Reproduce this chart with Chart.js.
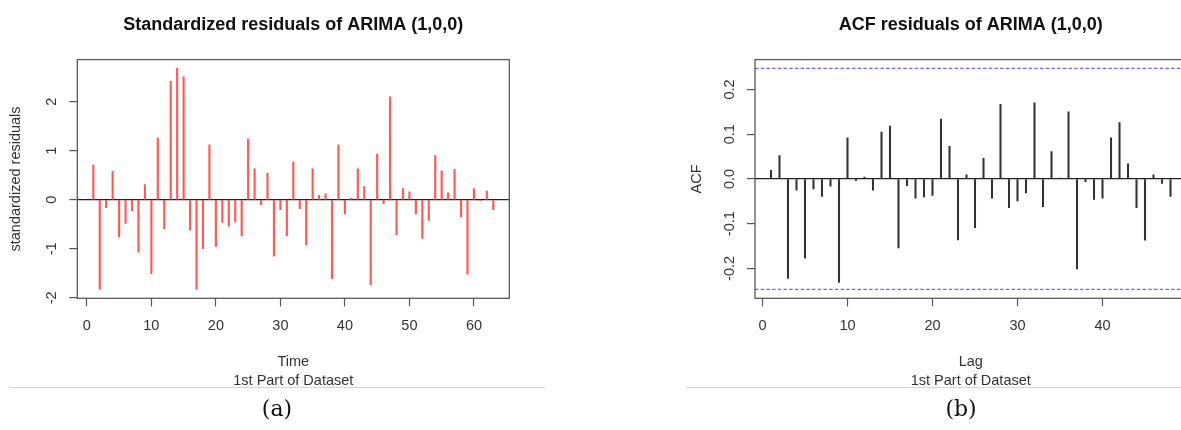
<!DOCTYPE html>
<html>
<head>
<meta charset="utf-8">
<script src="https://cdn.jsdelivr.net/npm/chart.js@4.4.1/dist/chart.umd.min.js"></script>
<style>
  html, body { margin: 0; padding: 0; background: #fff; overflow: hidden; width: 1181px; height: 430px; }
  .panel { position: absolute; top: 0; height: 400px; }
  .sep { position: absolute; top: 387px; height: 1px; background: #d6d6d6; }
  .cap { position: absolute; top: 396px; font-family: "DejaVu Serif", serif; font-size: 22px; color: #111; transform: translateX(-50%); }
</style>
</head>
<body>
<div class="panel" style="left:0;width:560px"><canvas id="resChart"></canvas></div>
<div class="panel" style="left:680px;width:520px"><canvas id="acfChart"></canvas></div>
<div class="sep" style="left:9px;width:536px"></div>
<div class="sep" style="left:686px;width:495px"></div>
<div class="cap" style="left:277px">(a)</div>
<div class="cap" style="left:961px">(b)</div>
<script>
// standardized residuals, t = 1..63
const residuals = [
  0.71, -1.83, -0.16, 0.58, -0.76, -0.48, -0.22, -1.07, 0.31, -1.51,
  1.26, -0.59, 2.42, 2.68, 2.51, -0.62, -1.83, -1.00, 1.12, -0.95,
  -0.46, -0.54, -0.45, -0.73, 1.24, 0.63, -0.10, 0.54, -1.15, -0.20,
  -0.73, 0.77, -0.18, -0.92, 0.63, 0.09, 0.12, -1.61, 1.12, -0.29,
  0.03, 0.63, 0.27, -1.73, 0.93, -0.08, 2.10, -0.71, 0.23, 0.16,
  -0.29, -0.79, -0.42, 0.90, 0.59, 0.14, 0.62, -0.35, -1.52, 0.23,
  -0.02, 0.18, -0.20
];
// ACF of residuals, lag = 1..48
const acfValues = [
  0.019, 0.052, -0.222, -0.025, -0.177, -0.022, -0.039, -0.016, -0.231, 0.092,
  -0.004, 0.004, -0.025, 0.105, 0.118, -0.154, -0.015, -0.043, -0.040, -0.037,
  0.134, 0.073, -0.136, 0.009, -0.109, 0.046, -0.043, 0.167, -0.064, -0.049,
  -0.031, 0.170, -0.062, 0.061, 0.002, 0.150, -0.201, -0.006, -0.046, -0.043,
  0.092, 0.126, 0.034, -0.064, -0.137, 0.009, -0.010, -0.039
];
const timeTicks = [0, 10, 20, 30, 40, 50, 60];
const resTicks = [-2, -1, 0, 1, 2];
const lagTicks = [0, 10, 20, 30, 40];
const acfTicks = [-0.2, -0.1, 0.0, 0.1, 0.2];

const nObs = residuals.length;
const ciBound = 1.96 / Math.sqrt(nObs);

// R style axis range: data range stretched by 4% each side
function rRange(lo, hi) {
  const d = (hi - lo) * 0.04;
  return [lo - d, hi + d];
}

const FONT = 'Liberation Sans, Arial, sans-serif';
const TXT = '#333';

const plotBox = {
  id: 'plotBox',
  afterDatasetsDraw(chart) {
    const { ctx, chartArea: a } = chart;
    ctx.save();
    ctx.strokeStyle = '#5a5a5a';
    ctx.lineWidth = 1.3;
    ctx.strokeRect(a.left, a.top, a.right - a.left, a.bottom - a.top);
    ctx.restore();
  }
};

function makeOptions(cfg) {
  return {
    responsive: true,
    maintainAspectRatio: false,
    animation: false,
    layout: { padding: { left: 0, right: cfg.padRight, top: 0, bottom: 0 } },
    plugins: {
      legend: { display: false },
      tooltip: { enabled: false },
      title: {
        display: true,
        text: cfg.title,
        fullSize: false,
        color: '#111',
        font: { family: FONT, size: 18, weight: 'bold' },
        padding: { top: 14, bottom: 24 }
      }
    },
    scales: {
      x: {
        type: 'linear',
        offset: false,
        min: cfg.xRange[0],
        max: cfg.xRange[1],
        afterBuildTicks: s => { s.ticks = cfg.xTicks.map(v => ({ value: v })); },
        afterFit: s => { s.height = cfg.xAxisHeight; },
        grid: { offset: false, drawOnChartArea: false, tickLength: 8, tickColor: '#555', tickWidth: 1.2 },
        border: { display: false },
        ticks: { autoSkip: false, maxRotation: 0, padding: 11, color: TXT, font: { family: FONT, size: 14.5 } },
        title: {
          display: true,
          text: [cfg.xTitle, '1st Part of Dataset'],
          color: TXT,
          font: { family: FONT, size: 14.5, lineHeight: 1.27 },
          padding: { top: 0, bottom: 10 }
        }
      },
      y: {
        min: cfg.yRange[0],
        max: cfg.yRange[1],
        afterBuildTicks: s => { s.ticks = cfg.yTicks.map(v => ({ value: v })); },
        afterFit: s => { s.width = cfg.yAxisWidth; },
        grid: {
          color: c => (c.tick && c.tick.value === 0 ? '#222' : 'rgba(0,0,0,0)'),
          lineWidth: 1.2,
          tickLength: 8,
          tickColor: '#555',
          tickWidth: 1.2
        },
        border: { display: false },
        ticks: {
          autoSkip: false,
          minRotation: 90,
          maxRotation: 90,
          crossAlign: 'center',
          padding: cfg.yTickPad,
          color: TXT,
          font: { family: FONT, size: 14.5 },
          callback: cfg.yFmt
        },
        title: {
          display: true,
          text: cfg.yTitle,
          color: TXT,
          font: { family: FONT, size: 14.5 },
          padding: { top: cfg.yTitlePad, bottom: 0 }
        }
      }
    }
  };
}

// panel (a): standardized residuals
const resX = rRange(1, nObs);
const resY = rRange(Math.min(...residuals), Math.max(...residuals));
new Chart(document.getElementById('resChart'), {
  type: 'bar',
  data: {
    datasets: [{
      data: residuals.map((v, i) => ({ x: i + 1, y: v })),
      backgroundColor: '#ff5a5a',
      barThickness: 1.5,
      grouped: false
    }]
  },
  options: makeOptions({
    title: 'Standardized residuals of ARIMA (1,0,0)',
    xTitle: 'Time',
    yTitle: 'standardized residuals',
    xRange: resX, yRange: resY,
    xTicks: timeTicks, yTicks: resTicks,
    padRight: 50.7, xAxisHeight: 101.7, yAxisWidth: 77.3,
    yTickPad: 11, yTitlePad: 7,
    yFmt: v => String(v)
  }),
  plugins: [plotBox]
});

// panel (b): ACF of residuals
const acfX = rRange(1, acfValues.length);
const acfY = rRange(Math.min(-ciBound, ...acfValues), Math.max(ciBound, ...acfValues));
new Chart(document.getElementById('acfChart'), {
  type: 'bar',
  data: {
    datasets: [
      {
        data: acfValues.map((v, i) => ({ x: i + 1, y: v })),
        backgroundColor: '#333',
        barThickness: 1.4,
        grouped: false
      },
      {
        type: 'line',
        data: [{ x: acfX[0], y: ciBound }, { x: acfX[1], y: ciBound }],
        borderColor: '#6a6aff',
        borderWidth: 1.3,
        borderDash: [3.5, 2.2],
        pointRadius: 0
      },
      {
        type: 'line',
        data: [{ x: acfX[0], y: -ciBound }, { x: acfX[1], y: -ciBound }],
        borderColor: '#6a6aff',
        borderWidth: 1.3,
        borderDash: [3.5, 2.2],
        pointRadius: 0
      }
    ]
  },
  options: makeOptions({
    title: 'ACF residuals of ARIMA (1,0,0)',
    xTitle: 'Lag',
    yTitle: 'ACF',
    xRange: acfX, yRange: acfY,
    xTicks: lagTicks, yTicks: acfTicks,
    padRight: 13.5, xAxisHeight: 101.7, yAxisWidth: 75,
    yTickPad: 5, yTitlePad: 8,
    yFmt: v => v.toFixed(1)
  }),
  plugins: [plotBox]
});
</script>
</body>
</html>
